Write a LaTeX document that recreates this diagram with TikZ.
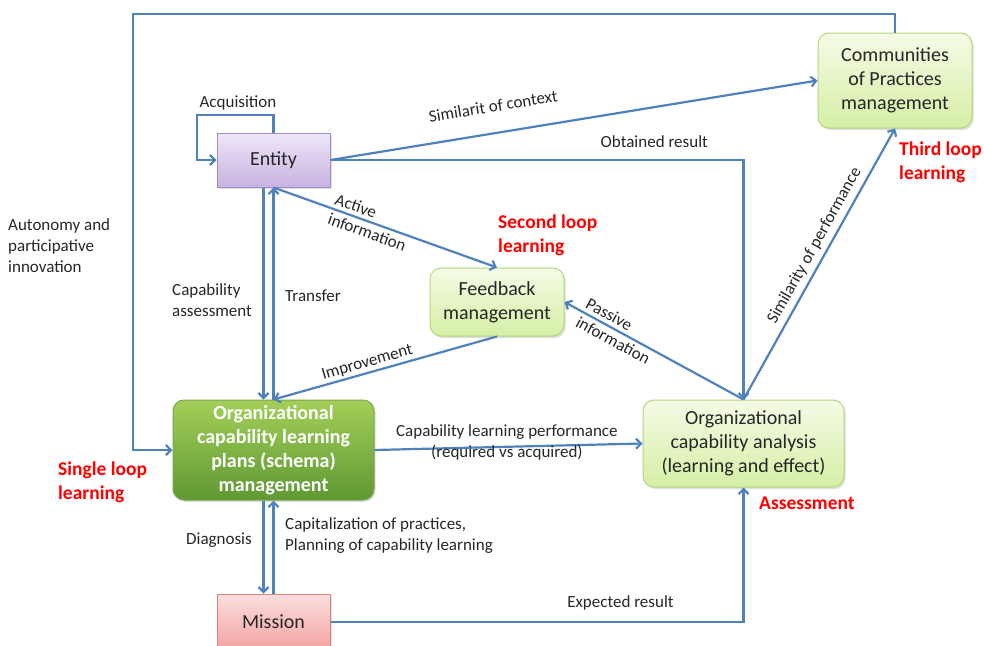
\documentclass[tikz,border=0pt]{standalone}
\usepackage{fontspec}
\setmainfont{Carlito}
\usetikzlibrary{arrows.meta,shadows}
\definecolor{linkblue}{HTML}{4F81BD}
\definecolor{loopred}{HTML}{FF0000}
\definecolor{labelgrey}{HTML}{262626}
\definecolor{entitytop}{HTML}{EEE7F7}
\definecolor{entitybot}{HTML}{C7B2E1}
\definecolor{entityline}{HTML}{A18BC9}
\definecolor{lighttop}{HTML}{F5FBE6}
\definecolor{lightbot}{HTML}{D5EFA5}
\definecolor{lightline}{HTML}{B3D67C}
\definecolor{plantop}{HTML}{A3CF58}
\definecolor{planbot}{HTML}{5F9833}
\definecolor{planline}{HTML}{78A64A}
\definecolor{missiontop}{HTML}{FBDEDE}
\definecolor{missionbot}{HTML}{F2A2A1}
\definecolor{missionline}{HTML}{D9827F}
\begin{document}
\begin{tikzpicture}[x=1pt,y=-1pt]
	\tikzstyle{every node}=[font=\fontsize{17}{21}\selectfont, text=labelgrey]
	\tikzstyle{link}=[draw=linkblue, line width=2.2pt, -{Straight Barb[length=5pt,width=10pt]}]
	\tikzstyle{loop label}=[text=loopred, font=\fontsize{19.5}{24}\selectfont\bfseries, align=left, anchor=west, inner sep=0pt]
	\tikzstyle{box}=[inner sep=0pt, align=center, font=\fontsize{20}{24}\selectfont, line width=1pt,
		drop shadow={opacity=0.25, shadow xshift=1.5pt, shadow yshift=-2pt}]
	\tikzstyle{light box}=[box, rounded corners=11pt, draw=lightline, top color=lighttop, bottom color=lightbot]
	
	\useasboundingbox (0,0) rectangle (984,645);
	
	\node[box, draw=entityline, top color=entitytop, bottom color=entitybot, minimum width=113pt, minimum height=54pt] (ent) at (273.5,160) {Entity};
	\node[light box, minimum width=154pt, minimum height=95pt] (cop) at (895,80.5) {Communities\\of Practices\\management};
	\node[light box, minimum width=134pt, minimum height=68pt] (fb) at (497,302) {Feedback\\management};
	\node[box, rounded corners=11pt, draw=planline, top color=plantop, bottom color=planbot, text=white, font=\fontsize{20}{24}\selectfont\bfseries, minimum width=201pt, minimum height=100pt] (plan) at (273.5,450) {Organizational\\capability learning\\plans (schema)\\management};
	\node[light box, minimum width=201pt, minimum height=87pt] (ana) at (743.5,443.5) {Organizational\\capability analysis\\(learning and effect)};
	\node[box, draw=missionline, top color=missiontop, bottom color=missionbot, minimum width=113pt, minimum height=56pt] (mis) at (273.5,622) {Mission};
	
	\coordinate (topL) at (133,14);
	\coordinate (acqL) at (197,115);
	
	\draw[link] (cop.north) |- (topL) |- (plan.west);
	\draw[link] (ent.north) |- (acqL) |- (ent.west);
	\node at (238,103) {Acquisition};
	
	\draw[link] (ent.east) -- (cop.west) node[sloped, pos=0.343, yshift=27pt] {Similarit of context};
	\draw[link] (ent.east) -| (ana.north) node[pos=0.392, yshift=18pt] {Obtained result};
	\draw[link] (ent.south) -- (fb.north) node[sloped, pos=0.435, align=left] {Active\\information};
	\draw[link] ([xshift=-10pt]ent.south) -- ([xshift=-10pt]plan.north);
	\draw[link] (plan.north) -- (ent.south);
	\node[anchor=west, align=left, inner sep=0pt] at (172,300) {Capability\\assessment};
	\node at (313,296) {Transfer};
	
	\draw[link] (fb.south) -- (plan.north) node[sloped, pos=0.568, yshift=10pt] {Improvement};
	\draw[link] (ana.north) -- (fb.east) node[sloped, pos=0.70, align=left] {Passive\\information};
	\draw[link] (ana.north) -- (cop.south) node[sloped, pos=0.544, yshift=13pt] {Similarity of performance};
	\draw[link] (plan.east) -- (ana.west) node[pos=0.494, yshift=4pt, align=center] {Capability learning performance\\(required vs acquired)};
	
	\draw[link] ([xshift=-10pt]plan.south) -- ([xshift=-10pt]mis.north);
	\draw[link] (mis.north) -- (plan.south);
	\node at (219,540) {Diagnosis};
	\node[anchor=west, align=left, inner sep=0pt] at (285,536) {Capitalization of practices,\\Planning of capability learning};
	
	\draw[link] (mis.east) -| (ana.south) node[pos=0.351, yshift=19pt] {Expected result};
	
	\node[anchor=west, align=left, inner sep=0pt] at (8,246) {Autonomy and\\participative\\innovation};
	\node[loop label] at (498,235.5) {Second loop\\learning};
	\node[loop label] at (899,162.5) {Third loop\\learning};
	\node[loop label] at (58,482) {Single loop\\learning};
	\node[loop label] at (759,503.5) {Assessment};
\end{tikzpicture}
\end{document}
